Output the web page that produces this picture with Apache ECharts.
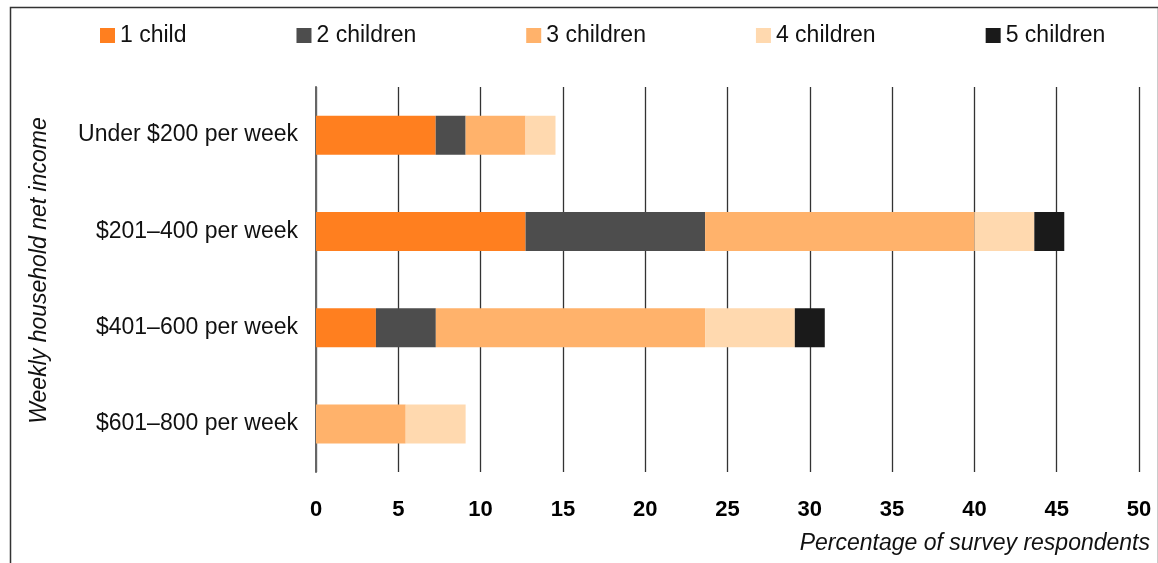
<!DOCTYPE html>
<html>
<head>
<meta charset="utf-8">
<script src="https://cdn.jsdelivr.net/npm/echarts@6/dist/echarts.min.js"></script>
<style>
html,body{margin:0;padding:0;background:#fff;}
#chart{width:1158px;height:563px;}
</style>
</head>
<body>
<div id="chart"></div>
<script>
var categories = ['Under $200 per week', '$201–400 per week', '$401–600 per week', '$601–800 per week'];
var seriesNames = ['1 child', '2 children', '3 children', '4 children', '5 children'];
var oneChild = [7.27, 12.73, 3.64, 0];
var twoChildren = [1.82, 10.91, 3.64, 0];
var threeChildren = [3.64, 16.36, 16.36, 5.45];
var fourChildren = [1.82, 3.64, 5.45, 3.64];
var fiveChildren = [0, 1.82, 1.82, 0];
var xTicks = [0, 5, 10, 15, 20, 25, 30, 35, 40, 45, 50];

var colors = ['#FF7F1F', '#4D4D4D', '#FFB26B', '#FFD9AF', '#1A1A1A'];
var values = [oneChild, twoChildren, threeChildren, fourChildren, fiveChildren];
var FONT = '"Liberation Sans", Arial, sans-serif';

var chart = echarts.init(document.getElementById('chart'), null, {renderer: 'canvas'});
var series = seriesNames.map(function (name, i) {
  return {
    name: name,
    type: 'bar',
    stack: 'total',
    barWidth: 39,
    itemStyle: {color: colors[i]},
    data: values[i]
  };
});

chart.setOption({
  animation: false,
  color: colors,
  textStyle: {fontFamily: FONT},
  legend: {
    top: 19,
    left: 95,
    itemWidth: 15,
    itemHeight: 15,
    itemGap: 110,
    icon: 'rect',
    textStyle: {fontSize: 23, color: '#111', fontFamily: FONT},
    data: seriesNames
  },
  grid: {left: 316, right: 19, top: 87, bottom: 91, containLabel: false},
  xAxis: {
    type: 'value',
    min: xTicks[0],
    max: xTicks[xTicks.length - 1],
    interval: 5,
    name: 'Percentage of survey respondents',
    nameLocation: 'end',
    nameGap: 11,
    nameTextStyle: {
      fontSize: 23, fontStyle: 'italic', color: '#111', fontFamily: FONT,
      align: 'right', verticalAlign: 'top', padding: [60, 0, 0, 0]
    },
    axisLine: {show: false},
    axisTick: {show: false},
    axisLabel: {fontSize: 22, fontWeight: 'bold', color: '#000', margin: 27, fontFamily: FONT},
    splitLine: {show: true, lineStyle: {color: '#333', width: 1.3}}
  },
  yAxis: {
    type: 'category',
    inverse: true,
    data: categories,
    name: 'Weekly household net income',
    nameLocation: 'middle',
    nameGap: 265,
    nameTextStyle: {fontSize: 23, fontStyle: 'italic', color: '#111', fontFamily: FONT, padding: [0, 0, 0, 18]},
    axisLine: {show: true, lineStyle: {color: '#666', width: 2}},
    axisTick: {show: false},
    axisLabel: {fontSize: 23, color: '#111', margin: 18, fontFamily: FONT}
  },
  graphic: [{
    type: 'rect',
    left: 8, top: 5,
    shape: {width: 1148, height: 620},
    style: {fill: 'none', stroke: '#333', lineWidth: 1.5},
    silent: true
  }],
  series: series
});
</script>
</body>
</html>
